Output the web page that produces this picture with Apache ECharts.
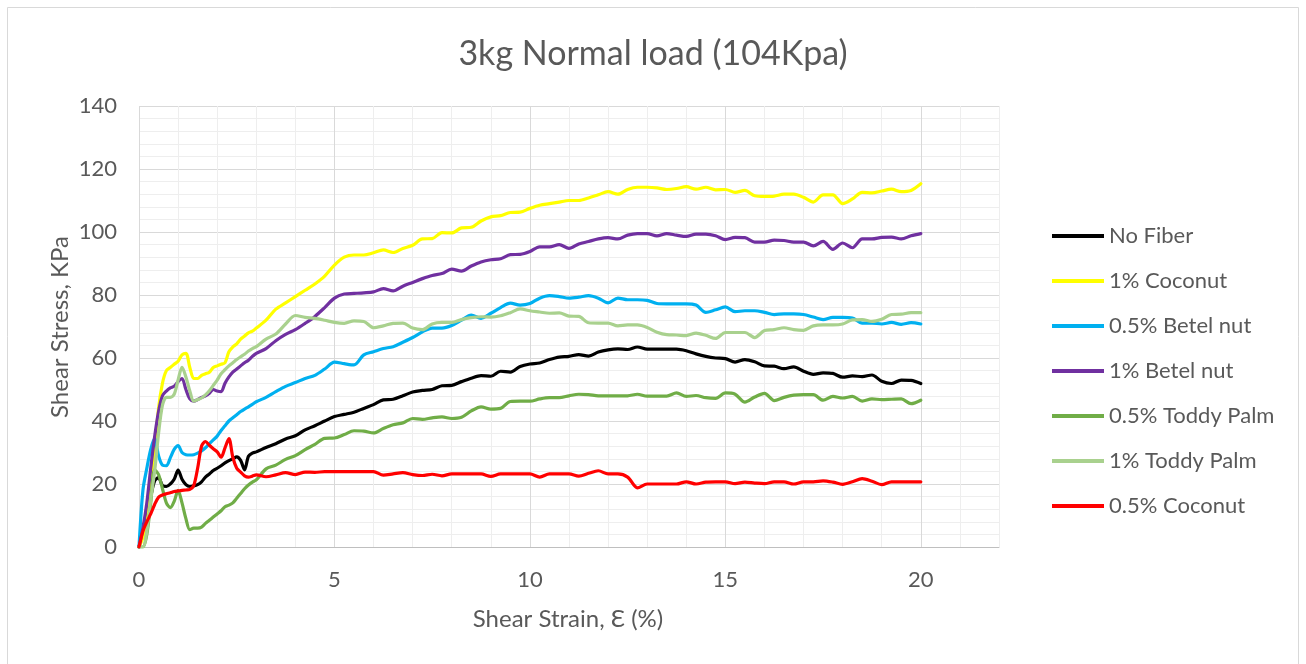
<!DOCTYPE html>
<html>
<head>
<meta charset="utf-8">
<script src="https://cdn.jsdelivr.net/npm/echarts@6/dist/echarts.min.js"></script>
<style>
html,body{margin:0;padding:0;background:#fff;}
#chart{width:1306px;height:664px;}
</style>
</head>
<body>
<div id="chart"></div>
<script>
// Shear strain (%) sample positions
const strain = [0,0.1,0.2,0.3,0.4,0.5,0.6,0.7,0.8,0.9,1,1.1,1.2,1.3,1.4,1.5,1.6,1.7,1.8,1.9,2,2.1,2.2,2.3,2.4,2.5,2.6,2.7,2.8,2.9,3,
  3.25,3.5,3.75,4, 4.25,4.5,4.75,5, 5.25,5.5,5.75,6, 6.25,6.5,6.75,7, 7.25,7.5,7.75,8, 8.25,8.5,8.75,9,
  9.25,9.5,9.75,10, 10.25,10.5,10.75,11, 11.25,11.5,11.75,12, 12.25,12.5,12.75,13, 13.25,13.5,13.75,14,
  14.25,14.5,14.75,15, 15.25,15.5,15.75,16, 16.25,16.5,16.75,17, 17.25,17.5,17.75,18, 18.25,18.5,18.75,19,
  19.25,19.5,19.75,20];

const noFiber = [0,5,10,16,21,22,19.5,19.2,20,21.5,24.4,21.5,19.8,19.2,19.4,19.8,20.7,22.2,23.2,24.3,25,25.8,26.7,27.4,28,28.6,27.5,24.5,28.8,29.8,30.2,
  31.6,32.8,34.3,35.3, 37.2,38.5,40,41.4, 42.1,42.8,44,45.2, 46.7,46.9,48,49.2, 49.7,50,51.2,51.3, 52.5,53.6,54.4,54.2,
  55.8,55.5,57.3,58.1, 58.4,59.5,60.3,60.5, 61.1,60.6,61.9,62.6, 62.9,62.7,63.5,62.8, 62.8,62.8,62.8,62.3,
  61.3,60.5,60,59.8, 58.7,59.5,58.8,57.5, 57.4,56.6,57.2,55.8, 54.8,55.3,55.1,53.9, 54.3,54.1,54.6,52.6,
  51.9,53,52.9,51.9];

const coconut1 = [0,3,8,18,30,44,52,56,57,58,59,61,61.5,57,53.5,53.5,54.5,55,55.5,57,57.5,58,58.5,62,63.5,64.5,66,67,68,68.5,69.5,
  72,75.5,77.5,79.5, 81.5,83.5,86,89.5, 92,92.7,92.7,93.4, 94.3,93.5,94.8,95.8, 97.8,97.9,99.8,99.7, 101.3,101.5,103.5,104.8,
  105.2,106.2,106.3,107.5, 108.5,109,109.5,110, 110,110.8,111.8,112.8, 112,113.5,114.2,114.2, 114,113.5,113.8,114.4,
  113.6,114.2,113.4,113.5, 112.6,113.2,111.5,111.3, 111.4,112,112,111, 109.5,111.8,111.8,109, 110.5,112.6,112.4,113,
  113.6,112.8,113.2,115.3];

const betel05 = [0,18,25,31,34.5,29,26,25.8,28.3,31,32.2,30,29.3,29.2,29.3,29.8,30.5,31.5,32.8,34,35.2,37,38.5,40,41,42,43,43.8,44.5,45.3,46.1,
  47.5,49.3,51,52.2, 53.5,54.5,56.5,58.7, 58.2,57.8,61,62, 63,63.6,65,66.5, 68.3,69.5,69.5,70.3, 72,73.6,72.6,74.2,
  76,77.4,76.8,77.3, 79,79.8,79.5,79, 79.3,79.8,79,77.5, 79,78.5,78.5,78.3, 77.3,77.2,77.2,77.2,
  76.8,74.5,75.3,76.2, 74.7,75,75,74.5, 73.8,74,74,73.8, 73,72.2,72.9,72.9, 72.7,71.1,71.1,70.8,
  71.3,70.7,71.2,70.8];

const betel1 = [0,6,14,25,35,43,48,49.5,50.5,51,52.5,53.5,50,47,46.3,46.8,47.5,48,48.8,50,49.5,49.3,52,54,55.5,56.5,57.5,58.5,59.3,60.5,61.5,
  63,65.5,67.5,69, 71,73.2,76,79, 80.3,80.5,80.7,81, 82,81.3,82.8,84, 85.2,86.2,86.8,88.2, 87.6,89.2,90.5,91.2,
  91.5,92.8,92.9,93.8, 95.3,95.3,96,94.8, 96.2,97,97.8,98.2, 97.8,99,99.5,99.5, 98.8,99.5,99,98.6,
  99.3,99.3,98.8,97.6, 98.3,98.2,96.8,96.8, 97.4,97.3,96.8,96.8, 95.6,97,94.5,96.5, 95,97.8,97.8,98.3,
  98.4,97.8,98.8,99.5];

const toddy05 = [0,0,4,14,24.5,23,18.5,14,12.5,14.5,18,14,9,5.5,6,6,6.3,7.5,8.5,9.5,10.5,11.5,12.8,13.3,14,15.5,17,18.5,19.7,20.6,21.3,
  24.8,26,27.8,29, 30.9,32.6,34.5,34.6, 35.7,36.9,36.8,36.2, 37.6,38.8,39.4,40.8, 40.5,41,41.3,40.8, 41.2,43.2,44.5,43.8,
  44,46.2,46.3,46.3, 47,47.4,47.4,48, 48.5,48.4,48,48, 48,48,48.5,47.9, 47.9,47.9,48.9,47.8,
  48.1,47.4,47.2,48.9, 48.5,46,47.6,48.8, 46.5,47.5,48.2,48.4, 48.4,46.6,47.8,47.3, 47.8,46.3,47,46.8,
  46.9,47,45.5,46.6];

const toddy1 = [0,0,5,15,24,36,45,47.5,47.5,48.5,53,57,54,49.5,46.3,46.8,47.3,48.3,49.6,51.3,53,55,56.3,57.5,58.5,59.5,60.4,61.2,62.2,63,63.6,
  66,67.6,70.8,73.5, 72.9,72.6,72,71.3, 71,71.8,71.6,69.6, 70.2,71,71.1,69.5, 69,70.8,71.3,71.3, 72.2,72.8,73.1,73,
  73.4,74.4,75.6,75, 74.6,74.2,74.3,73.3, 73.2,71.2,71.1,71.1, 70.2,70.5,70.5,69.7, 68.2,67.4,67.3,67.1,
  67.9,67.2,66.2,68.1, 68.1,68.1,66.5,68.7, 69,69.6,69,68.8, 70.2,70.5,70.5,70.8, 72.1,72.2,71.6,72.3,
  73.8,73.9,74.4,74.4];

const coconut05 = [0,5,8,10.5,13.5,15.8,16.5,16.9,17.2,17.6,17.8,18,18.1,18.3,19.5,25,32,33.5,32.3,31.2,30.2,28.5,31.5,34.4,28.5,25,23.8,22.6,22.2,22.5,22.9,
  22.3,22.9,23.6,23, 23.8,23.7,23.9,23.9, 23.9,23.9,23.9,23.9, 22.8,23.2,23.6,23, 22.7,23.1,22.6,23.2, 23.2,23.2,23.2,22.4,
  23.2,23.2,23.2,23.2, 22.2,23.2,23.2,23.2, 22.5,23.4,24.2,23.2, 23.2,22.2,18.8,20, 20,20,20,20.7,
  20,20.6,20.7,20.7, 20.1,20.6,20.3,20.1, 20.7,20.7,20,20.7, 20.7,21,20.6,19.9, 20.7,21.7,20.9,19.8,
  20.7,20.7,20.7,20.7];

const seriesNames = ['No Fiber','1% Coconut','0.5% Betel nut','1% Betel nut','0.5% Toddy Palm','1% Toddy Palm','0.5% Coconut'];
const seriesValues = [noFiber, coconut1, betel05, betel1, toddy05, toddy1, coconut05];
const seriesColors = ['#000000','#FFFF00','#00B0F0','#7030A0','#70AD47','#A9D18E','#FF0000'];

const xTicks = [0,5,10,15,20];
const yTicks = [0,20,40,60,80,100,120,140];

const FONT = 'Lato, "Open Sans", sans-serif';
const TXT = '#595959';
const MAJOR = '#d9d9d9';
const MINOR = '#eeeeee';

const chart = echarts.init(document.getElementById('chart'), null, {renderer:'canvas'});

const series = seriesNames.map((name, k) => ({
  name: name,
  type: 'line',
  data: strain.map((s, i) => [s, seriesValues[k][i]]),
  showSymbol: false,
  symbol: 'none',
  smooth: 0.3,
  lineStyle: { color: seriesColors[k], width: 3.2, cap: 'round', join: 'round' },
  itemStyle: { color: seriesColors[k] },
  emphasis: { disabled: true },
  animation: false
}));

chart.setOption({
  backgroundColor: '#ffffff',
  animation: false,
  title: {
    text: '3kg Normal load (104Kpa)',
    left: 'center',
    top: 32,
    textStyle: { fontFamily: FONT, fontSize: 34, fontWeight: 'normal', color: TXT }
  },
  grid: { left: 139, top: 106, right: 307, bottom: 117, containLabel: false },
  xAxis: {
    type: 'value', min: 0, max: 22, interval: 1,
    axisLine: { show: true, lineStyle: { color: '#bfbfbf', width: 1 } },
    axisTick: { show: false },
    axisLabel: {
      margin: 22, color: TXT, fontFamily: FONT, fontSize: 22,
      formatter: v => xTicks.indexOf(v) >= 0 ? String(v) : ''
    },
    splitLine: { show: true, lineStyle: { color: [MAJOR, MINOR, MINOR, MINOR, MINOR], width: 1 } }
  },
  yAxis: {
    type: 'value', min: 0, max: 140, interval: 4,
    axisLine: { show: false },
    axisTick: { show: false },
    axisLabel: {
      margin: 22, color: TXT, fontFamily: FONT, fontSize: 22,
      formatter: v => yTicks.indexOf(v) >= 0 ? String(v) : ''
    },
    splitLine: { show: true, lineStyle: { color: [MAJOR, MINOR, MINOR, MINOR, MINOR], width: 1 } }
  },
  legend: {
    orient: 'vertical',
    left: 1052, top: 225,
    padding: 0,
    icon: 'rect',
    itemWidth: 52, itemHeight: 4,
    itemGap: 23,
    data: seriesNames,
    textStyle: { fontFamily: FONT, fontSize: 22, color: TXT, lineHeight: 22 }
  },
  graphic: [
    { type: 'rect', shape: { x: 7.5, y: 7.5, width: 1291, height: 700 }, style: { fill: 'none', stroke: '#d9d9d9', lineWidth: 1 }, silent: true },
    { type: 'text', x: 60, y: 327, rotation: Math.PI / 2,
      style: { text: 'Shear Stress, KPa', fill: TXT, font: '24px ' + FONT, align: 'center', verticalAlign: 'middle', textAlign: 'center', textVerticalAlign: 'middle' } },
    { type: 'text', x: 568, y: 619,
      style: { text: 'Shear Strain, Ɛ (%)', fill: TXT, font: '24px ' + FONT, align: 'center', verticalAlign: 'middle', textAlign: 'center', textVerticalAlign: 'middle' } }
  ],
  series: series
});
</script>
</body>
</html>
